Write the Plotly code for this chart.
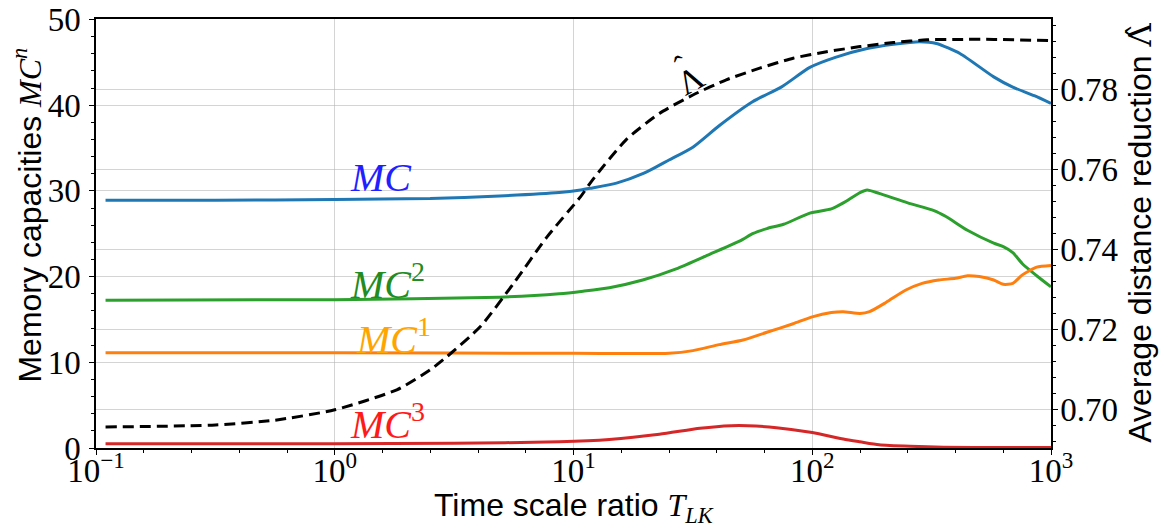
import numpy as np
import plotly.graph_objects as go

# log10 of time scale ratio T_LK
lam_logT = [-0.96, -0.5, -0.25, 0.0, 0.26, 0.40, 0.47, 0.61, 0.75, 0.89, 1.03, 1.08, 1.22, 1.36, 1.50,
            1.64, 1.78, 1.92, 2.06, 2.20, 2.34, 2.48, 2.62, 2.76, 3.0]
lam_vals = [0.6955, 0.6960, 0.6972, 0.6998, 0.7048, 0.7098, 0.7131, 0.7206, 0.7315, 0.7431, 0.7531, 0.7573,
            0.7673, 0.7739, 0.7785, 0.7823, 0.7852, 0.7877, 0.7893, 0.7906, 0.7916, 0.7923, 0.7924, 0.7924, 0.7921]

mc_logT = [-0.96, -0.5, 0.0, 0.4, 0.69, 0.94, 1.03, 1.07, 1.18, 1.29, 1.40, 1.50, 1.61, 1.75, 1.87, 1.99,
           2.10, 2.23, 2.34, 2.45, 2.52, 2.62, 2.76, 2.84, 2.93, 3.0]
mc_vals = [28.9, 28.9, 29.0, 29.1, 29.4, 29.8, 30.1, 30.3, 30.9, 32.0, 33.6, 35.1, 37.6, 40.4, 42.1, 44.4,
           45.6, 46.6, 47.1, 47.4, 47.2, 46.0, 43.3, 42.1, 41.1, 40.2]

mc2_logT = [-0.96, 0.0, 0.69, 0.94, 1.04, 1.15, 1.29, 1.43, 1.57, 1.70, 1.75, 1.81, 1.88, 1.99, 2.08, 2.13,
            2.20, 2.23, 2.28, 2.40, 2.51, 2.56, 2.65, 2.76, 2.80, 2.84, 2.88, 2.94, 3.0]
mc2_vals = [17.25, 17.3, 17.6, 18.0, 18.3, 18.7, 19.6, 20.9, 22.6, 24.2, 25.0, 25.6, 26.1, 27.4, 27.9, 28.6,
            29.8, 30.1, 29.7, 28.6, 27.7, 27.0, 25.4, 23.9, 23.5, 22.8, 21.5, 20.1, 18.8]

mc1_logT = [-0.96, 0.0, 1.0, 1.40, 1.50, 1.61, 1.71, 1.81, 1.92, 2.00, 2.08, 2.13, 2.20, 2.24, 2.31, 2.39,
            2.46, 2.53, 2.60, 2.65, 2.70, 2.76, 2.80, 2.84, 2.88, 2.94, 3.0]
mc1_vals = [11.1, 11.1, 11.05, 11.05, 11.36, 12.06, 12.6, 13.5, 14.5, 15.3, 15.8, 15.9, 15.7, 15.9, 17.0, 18.4,
            19.2, 19.6, 19.8, 20.1, 20.0, 19.6, 19.1, 19.2, 20.2, 21.1, 21.3]

mc3_logT = [-0.96, 0.0, 0.5, 0.94, 1.15, 1.36, 1.53, 1.66, 1.73, 1.85, 2.00, 2.13, 2.20, 2.28, 2.41, 2.55,
            2.8, 3.0]
mc3_vals = [0.5, 0.5, 0.55, 0.73, 1.0, 1.6, 2.3, 2.6, 2.6, 2.37, 1.8, 1.05, 0.73, 0.38, 0.2, 0.1, 0.05, 0.05]

x_tickvals = [-1, 0, 1, 2, 3]
x_ticktext = ["10<sup>−1</sup>", "10<sup>0</sup>", "10<sup>1</sup>", "10<sup>2</sup>", "10<sup>3</sup>"]
y_tickvals = [0, 10, 20, 30, 40, 50]
y2_tickvals = [0.70, 0.72, 0.74, 0.76, 0.78]

SERIF = "Liberation Serif"
MATH = "DejaVu Serif"
SANS = "Liberation Sans"
GRID = "rgba(176,176,176,0.55)"
TITLE_SIZE = 32

fig = go.Figure()
line_kw = dict(width=3, shape="spline", smoothing=0.6)
fig.add_trace(go.Scatter(x=mc_logT, y=mc_vals, mode="lines", line=dict(color="#1f77b4", **line_kw), showlegend=False))
fig.add_trace(go.Scatter(x=mc2_logT, y=mc2_vals, mode="lines", line=dict(color="#2ca02c", **line_kw), showlegend=False))
fig.add_trace(go.Scatter(x=mc1_logT, y=mc1_vals, mode="lines", line=dict(color="#ff7f0e", **line_kw), showlegend=False))
fig.add_trace(go.Scatter(x=mc3_logT, y=mc3_vals, mode="lines", line=dict(color="#d62728", **line_kw), showlegend=False))
fig.add_trace(go.Scatter(x=lam_logT, y=lam_vals, mode="lines", yaxis="y2",
                         line=dict(color="black", width=3, dash="11px,6px", shape="spline", smoothing=0.6),
                         showlegend=False))

labels = [("MC", "", 0.194, 31.6, "#1f1fff"),
          ("MC", "2", 0.219, 19.4, "#228b22"),
          ("MC", "1", 0.244, 13.0, "#ffa500"),
          ("MC", "3", 0.219, 3.1, "#ff1a1a")]
for base, sup, lx, ly, col in labels:
    txt = f"<i>{base}</i>" + (f"<sup>{sup}</sup>" if sup else "")
    fig.add_annotation(x=lx, y=ly, xref="x", yref="y", text=txt, showarrow=False,
                       font=dict(family=SERIF, size=40, color=col))

# rotated Lambda-hat label next to the dashed curve
fig.add_annotation(x=1.488, y=0.7822, xref="x", yref="y2", text="Λ", showarrow=False, textangle=-29,
                   font=dict(family=SERIF, size=34, color="black"))
fig.add_annotation(x=1.450, y=0.7860, xref="x", yref="y2", text="ˆ", showarrow=False, textangle=-29,
                   font=dict(family=SERIF, size=30, color="black"))

# axis titles
fig.add_annotation(x=-0.0723, y=0.544, xref="paper", yref="paper", textangle=-90, showarrow=False,
                   xanchor="center", yanchor="middle",
                   text=f"Memory capacities <i><span style='font-family:{SERIF}'>MC<sup>n</sup></span></i>",
                   font=dict(family=SANS, size=TITLE_SIZE, color="black"))
fig.add_annotation(x=1.0932, y=0.502, xref="paper", yref="paper", textangle=-90, showarrow=False,
                   xanchor="center", yanchor="middle",
                   text=f"Average distance reduction <span style='font-family:{MATH}'>Λ̂</span>",
                   font=dict(family=SANS, size=TITLE_SIZE, color="black"))
fig.add_annotation(x=0.5, y=-0.138, xref="paper", yref="paper", showarrow=False,
                   xanchor="center", yanchor="middle",
                   text=f"Time scale ratio <i><span style='font-family:{SERIF}'>T<sub>LK</sub></span></i>",
                   font=dict(family=SANS, size=TITLE_SIZE, color="black"))

tick_common = dict(ticks="outside", ticklen=5, tickwidth=1.2, tickcolor="black",
                   showline=True, linecolor="black", linewidth=1.5, zeroline=False,
                   showgrid=True, gridcolor=GRID, gridwidth=1, automargin=False,
                   ticklabeloverflow="allow",
                   tickfont=dict(family=SERIF, size=33, color="black"))

fig.update_layout(
    width=1160, height=523,
    margin=dict(l=88, r=117, t=11, b=83),
    plot_bgcolor="white", paper_bgcolor="white",
    xaxis=dict(range=[-1, 3], tickvals=x_tickvals, ticktext=x_ticktext, mirror=True,
               ticklabelstandoff=-12,
               minor=dict(dtick=0.2, ticks="outside", ticklen=3, tickcolor="black", showgrid=False),
               **tick_common),
    yaxis=dict(range=[0, 50.05], tickvals=y_tickvals, ticklabelstandoff=2,
               minor=dict(dtick=2, ticks="outside", ticklen=3, tickcolor="black", showgrid=False),
               **tick_common),
    yaxis2=dict(range=[0.69025, 0.7975], tickvals=y2_tickvals, tickformat=".2f",
                overlaying="y", side="right", ticklabelstandoff=-4,
                minor=dict(dtick=0.004, tick0=0.70, ticks="outside", ticklen=3, tickcolor="black", showgrid=False),
                **tick_common),
)

fig.write_html("out.html")
